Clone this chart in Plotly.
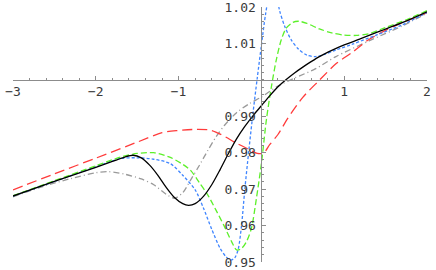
import numpy as np
import plotly.graph_objects as go

# ---- data ----
x_black = [-3.0, -2.5, -2.0, -1.8, -1.65, -1.55, -1.45, -1.35, -1.25, -1.15, -1.05, -0.95,
           -0.88, -0.8, -0.7, -0.6, -0.5, -0.4, -0.3, -0.2, -0.1, 0.0, 0.1, 0.2, 0.3,
           0.4, 0.5, 0.6, 0.7, 0.85, 1.0, 1.2, 1.4, 1.7, 2.0]
y_black = [0.9681, 0.9721, 0.9760, 0.9776, 0.9788, 0.9793, 0.9786, 0.9766, 0.9738, 0.9705,
           0.9677, 0.9660, 0.96555, 0.9660, 0.9680, 0.9712, 0.9753, 0.9797, 0.9838, 0.9872,
           0.9902, 0.9929, 0.9956, 0.9981, 1.0001, 1.0019, 1.0035, 1.0050, 1.0064, 1.0081,
           1.0096, 1.0113, 1.0131, 1.0157, 1.0187]

x_green = [-3.0, -2.5, -2.0, -1.7, -1.5, -1.3, -1.1, -0.95, -0.85, -0.75, -0.65, -0.55,
           -0.45, -0.36, -0.3, -0.24, -0.18, -0.12, -0.06, 0.0, 0.06, 0.12, 0.18, 0.24,
           0.3, 0.38, 0.45, 0.55, 0.7, 0.85, 1.0, 1.15, 1.3, 1.5, 1.75, 2.0]
y_green = [0.9682, 0.9723, 0.9764, 0.9788, 0.9798, 0.9800, 0.9787, 0.9768, 0.9750, 0.9718,
           0.9685, 0.9643, 0.9599, 0.9556, 0.9533, 0.9537, 0.9556, 0.9593, 0.9675, 0.9770,
           0.9890, 0.9980, 1.0055, 1.0110, 1.0142, 1.0158, 1.0161, 1.0155, 1.0140, 1.0129,
           1.0123, 1.0122, 1.0127, 1.0144, 1.0165, 1.0190]

x_blue = [-3.0, -2.5, -2.0, -1.7, -1.5, -1.3, -1.1, -0.95, -0.8, -0.7, -0.6, -0.5,
          -0.43, -0.37, -0.32, -0.28, -0.24, -0.2, -0.15, -0.1, -0.05, 0.0, 0.05, 0.1,
          0.14, 0.18, 0.22, 0.28, 0.36, 0.45, 0.55, 0.65, 0.75, 0.9, 1.1, 1.4, 1.7, 2.0]
y_blue = [0.9681, 0.9721, 0.9761, 0.9784, 0.9786, 0.9782, 0.9770, 0.9738, 0.9698, 0.9648,
          0.9590, 0.9538, 0.9515, 0.9505, 0.9512, 0.9535, 0.9600, 0.9700, 0.9810, 0.9912,
          1.0005, 1.0095, 1.0180, 1.0240, 1.0255, 1.0235, 1.0190, 1.0148, 1.0110, 1.0084,
          1.0068, 1.0064, 1.0069, 1.0082, 1.0098, 1.0124, 1.0151, 1.0185]

x_red = [-3.0, -2.5, -2.0, -1.5, -1.2, -1.0, -0.8, -0.62, -0.48, -0.3, -0.15, -0.05,
         0.03, 0.1, 0.2, 0.32, 0.5, 0.7, 0.9, 1.1, 1.3, 1.6, 2.0]
y_red = [0.9698, 0.9742, 0.9785, 0.9829, 0.9855, 0.9861, 0.9864, 0.9862, 0.9849, 0.9826,
         0.9809, 0.9798, 0.9800, 0.9822, 0.9850, 0.9895, 0.9952, 0.9999, 1.0044, 1.0076,
         1.0111, 1.0147, 1.0184]

x_gray = [-3.0, -2.6, -2.3, -2.0, -1.85, -1.65, -1.45, -1.3, -1.15, -1.05, -0.95, -0.85,
          -0.75, -0.65, -0.55, -0.45, -0.3, -0.15, 0.0, 0.2, 0.4, 0.65, 0.9, 1.3, 1.7, 2.0]
y_gray = [0.9679, 0.9710, 0.9729, 0.9745, 0.9748, 0.9741, 0.9728, 0.9712, 0.9686, 0.9675,
          0.9690, 0.9727, 0.9765, 0.9805, 0.9843, 0.9874, 0.9910, 0.9934, 0.9953, 0.9983,
          1.0005, 1.0030, 1.0064, 1.0107, 1.0148, 1.0183]

x_ticks = [-3, -2, -1, 1, 2]
x_ticklabels = ["\u22123", "\u22122", "\u22121", "1", "2"]
y_ticks = [0.95, 0.96, 0.97, 0.98, 0.99, 1.01, 1.02]
y_ticklabels = ["0.95", "0.96", "0.97", "0.98", "0.99", "1.01", "1.02"]

X_RANGE = [-3, 2]
Y_RANGE = [0.95, 1.02]

fig = go.Figure()

def add(x, y, color, dash, width=1.3):
    fig.add_trace(go.Scatter(x=x, y=y, mode="lines",
                             line=dict(color=color, dash=dash, width=width,
                                       shape="spline", smoothing=0.8),
                             hoverinfo="skip", showlegend=False))

add(x_gray, y_gray, "#9a9a9a", "6px,3px,1px,3px")
add(x_red, y_red, "#ff3b3b", "10px,5px")
add(x_blue, y_blue, "#3f85ff", "3px,2px")
add(x_green, y_green, "#5cf02a", "6px,3px")
add(x_black, y_black, "#000000", "solid")

axis_font = dict(family="DejaVu Sans Mono", size=13, color="#3a3a3a")

# tiny pad so the end ticks are not dropped by floating-point comparison
y_range_drawn = [Y_RANGE[0] - 1e-5, Y_RANGE[1] + 1e-5]
x_range_drawn = [X_RANGE[0] - 1e-4, X_RANGE[1] + 1e-4]

xpos = (1.0 - y_range_drawn[0]) / (y_range_drawn[1] - y_range_drawn[0])
ypos = (0.0 - x_range_drawn[0]) / (x_range_drawn[1] - x_range_drawn[0])

fig.update_layout(
    width=436, height=270,
    margin=dict(l=13, r=9, t=7, b=8, autoexpand=False),
    paper_bgcolor="white", plot_bgcolor="white",
    xaxis=dict(range=x_range_drawn, anchor="free", position=xpos, automargin=False,
               showgrid=False, zeroline=False, ticklabeloverflow="allow",
               showline=True, linecolor="#8c8c8c", linewidth=1,
               ticks="inside", ticklen=4, tickcolor="#8c8c8c", tickwidth=1,
               tickvals=x_ticks, ticktext=x_ticklabels, tickfont=axis_font,
               minor=dict(ticks="inside", ticklen=2, tickcolor="#8c8c8c",
                          tickvals=list(np.round(np.arange(-3, 2.001, 0.2), 3)))),
    yaxis=dict(range=y_range_drawn, anchor="free", position=ypos, automargin=False,
               showgrid=False, zeroline=False, ticklabeloverflow="allow",
               showline=True, linecolor="#8c8c8c", linewidth=1,
               ticks="inside", ticklen=4, tickcolor="#8c8c8c", tickwidth=1,
               tickvals=y_ticks, ticktext=y_ticklabels, tickfont=axis_font,
               ticklabelstandoff=3,
               minor=dict(ticks="inside", ticklen=2, tickcolor="#8c8c8c",
                          tickvals=list(np.round(np.arange(0.95, 1.0201, 0.002), 4)))),
)

fig.write_html("out.html", config={"displayModeBar": False},
               post_script="document.body.style.margin='0';document.body.style.overflow='hidden';")
